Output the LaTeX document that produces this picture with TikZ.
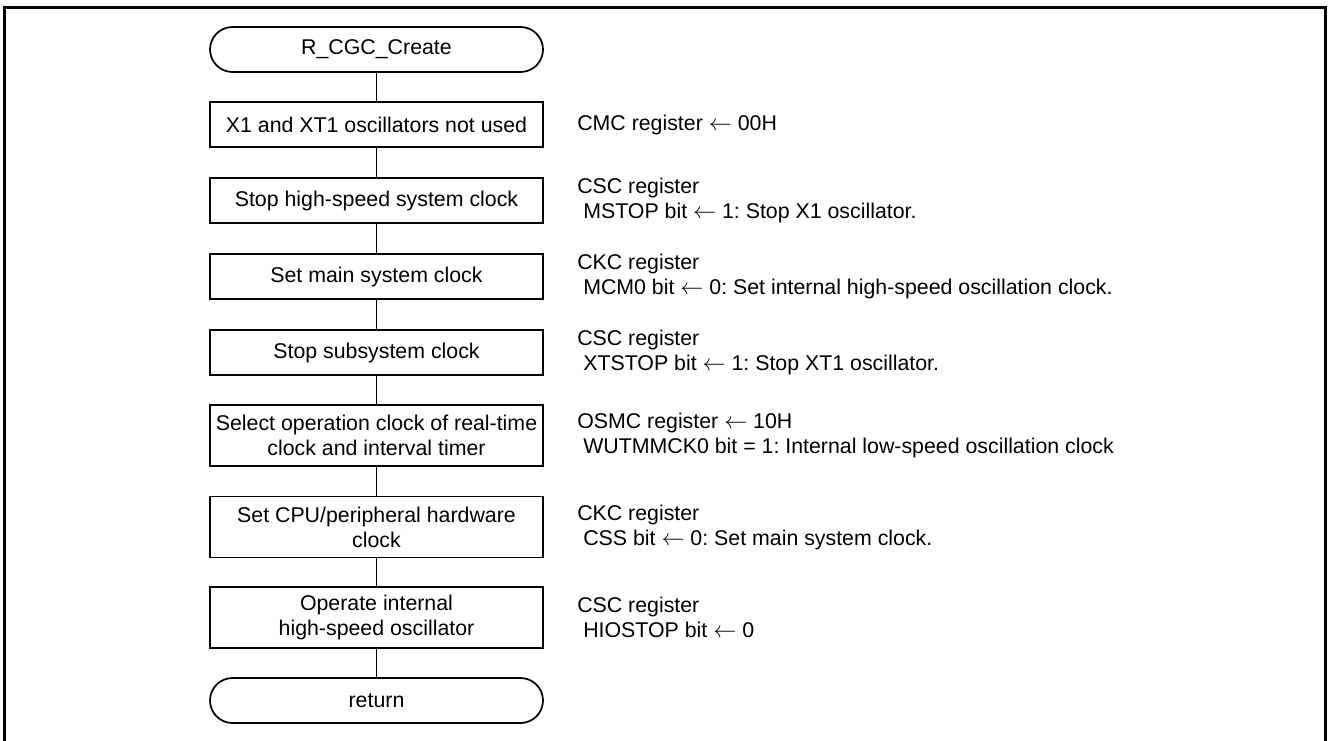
\documentclass[tikz,border=0pt]{standalone}
\usepackage{fontspec}
\setmainfont{Liberation Sans}
\frenchspacing
\begin{document}
\begin{tikzpicture}[x=0.75pt,y=-0.75pt,
  every node/.style={font=\fontsize{16}{18.75}\selectfont, text=black},
  procbox/.style={draw, line width=1.3pt, fill=white, minimum width=249.75pt, align=center, inner sep=0pt},
  onebox/.style={procbox, minimum height=33.75pt},
  twobox/.style={procbox, minimum height=45.75pt},
  termbox/.style={procbox, minimum height=33.75pt, rounded corners=16.87pt},
  note/.style={anchor=west, align=left, inner sep=0pt},
  link/.style={line width=1.3pt}]
\useasboundingbox (0,0) rectangle (1328,740);
\draw[line width=2.4pt] (4.5,745) -- (4.5,7.5) -- (1325.5,7.5) -- (1325.5,745);

\node[termbox] (start) at (376.5,49.5) {R\_CGC\_Create};
\node[onebox] (b1) at (376.5,124.5) {X1 and XT1 oscillators not used};
\node[onebox] (b2) at (376.5,200.5) {Stop high-speed system clock};
\node[onebox] (b3) at (376.5,276.5) {Set main system clock};
\node[onebox] (b4) at (376.5,352.5) {Stop subsystem clock};
\node[twobox] (b5) at (376.5,435.5) {Select operation clock of real-time\\clock and interval timer};
\node[twobox] (b6) at (376.5,527) {Set CPU/peripheral hardware\\clock};
\node[twobox] (b7) at (376.5,617.5) {Operate internal\\high-speed oscillator};
\node[termbox] (ret) at (376.5,700.5) {return};

\draw[link] (start) -- (b1);
\draw[link] (b1) -- (b2);
\draw[link] (b2) -- (b3);
\draw[link] (b3) -- (b4);
\draw[link] (b4) -- (b5);
\draw[link] (b5) -- (b6);
\draw[link] (b6) -- (b7);
\draw[link] (b7) -- (ret);

\node[note] (n1) at (577,124.5) {CMC register $\leftarrow$ 00H};
\node[note] (n2) at (577,200.5) {CSC register\\\hspace{4.5pt}MSTOP bit $\leftarrow$ 1: Stop X1 oscillator.};
\node[note] (n3) at (577,276.5) {CKC register\\\hspace{4.5pt}MCM0 bit $\leftarrow$ 0: Set internal high-speed oscillation clock.};
\node[note] (n4) at (577,352.5) {CSC register\\\hspace{4.5pt}XTSTOP bit $\leftarrow$ 1: Stop XT1 oscillator.};
\node[note] (n5) at (577,435.5) {OSMC register $\leftarrow$ 10H\\\hspace{4.5pt}WUTMMCK0 bit = 1: Internal low-speed oscillation clock};
\node[note] (n6) at (577,527) {CKC register\\\hspace{4.5pt}CSS bit $\leftarrow$ 0: Set main system clock.};
\node[note] (n7) at (577,617.5) {CSC register\\\hspace{4.5pt}HIOSTOP bit $\leftarrow$ 0};
\end{tikzpicture}
\end{document}
